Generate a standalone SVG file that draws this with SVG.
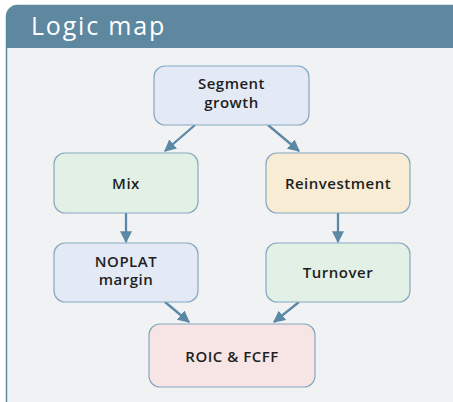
<svg xmlns="http://www.w3.org/2000/svg" width="453" height="402" viewBox="0 0 453 402">
<defs>
<style>
.frame{fill:#f1f2f4;stroke:#5e87a0;stroke-width:1.5}
.node{stroke:#86a8c0;stroke-width:1.2}
.blue{fill:#e3eaf6}
.green{fill:#e3f0e6}
.yellow{fill:#f8ecd5}
.pink{fill:#f7e4e5}
.lbl{font-family:"Open Sans","Liberation Sans",sans-serif;font-size:15px;font-weight:600;fill:#1e1e1e;text-anchor:middle;letter-spacing:0.5px}
.edge{stroke:#5b88a5;stroke-width:2.3;fill:none;marker-end:url(#ah)}
</style>
<marker id="ah" viewBox="0 0 10 10" refX="9" refY="5" markerWidth="5.2" markerHeight="5.2" orient="auto" markerUnits="strokeWidth">
<path d="M0,0 L10,5 L0,10 z" fill="#5b88a5"/>
</marker>
</defs>
<g id="frame">
<rect class="frame" x="6.5" y="5.5" width="460" height="410" rx="11"/>
<path d="M6.5,48 V16.5 A11,11 0 0 1 17.5,5.5 H455.5 A11,11 0 0 1 466.5,16.5 V48 Z" fill="#5e87a0"/>
<text x="31" y="35" font-family="'Open Sans','Liberation Sans',sans-serif" font-size="25" font-weight="500" letter-spacing="1.8" fill="#ffffff">Logic map</text>
</g>
<g id="connectors">
<line class="edge" x1="195" y1="125" x2="165" y2="151"/>
<line class="edge" x1="268" y1="125" x2="299" y2="151"/>
<line class="edge" x1="126" y1="213" x2="126" y2="242"/>
<line class="edge" x1="338" y1="213" x2="338" y2="242"/>
<line class="edge" x1="165" y1="302" x2="189" y2="322"/>
<line class="edge" x1="299" y1="302" x2="274" y2="322"/>
</g>
<g id="segment-growth">
<rect class="node blue" x="154" y="66" width="155" height="59" rx="11"/>
<text class="lbl" x="231.5" y="89">Segment</text>
<text class="lbl" x="231.5" y="108">growth</text>
</g>
<g id="mix">
<rect class="node green" x="54" y="153" width="144" height="60" rx="11"/>
<text class="lbl" x="126" y="188.5">Mix</text>
</g>
<g id="reinvestment">
<rect class="node yellow" x="266" y="153" width="144" height="60" rx="11"/>
<text class="lbl" x="338" y="188.5">Reinvestment</text>
</g>
<g id="noplat-margin">
<rect class="node blue" x="54" y="243" width="144" height="59" rx="11"/>
<text class="lbl" x="126" y="267">NOPLAT</text>
<text class="lbl" x="126" y="285" font-size="14">margin</text>
</g>
<g id="turnover">
<rect class="node green" x="266" y="243" width="144" height="59" rx="11"/>
<text class="lbl" x="338" y="278">Turnover</text>
</g>
<g id="roic-fcff">
<rect class="node pink" x="149" y="324" width="166" height="63" rx="11"/>
<text class="lbl" x="232" y="362" font-size="16" letter-spacing="1.2">ROIC &amp; FCFF</text>
</g>
</svg>
